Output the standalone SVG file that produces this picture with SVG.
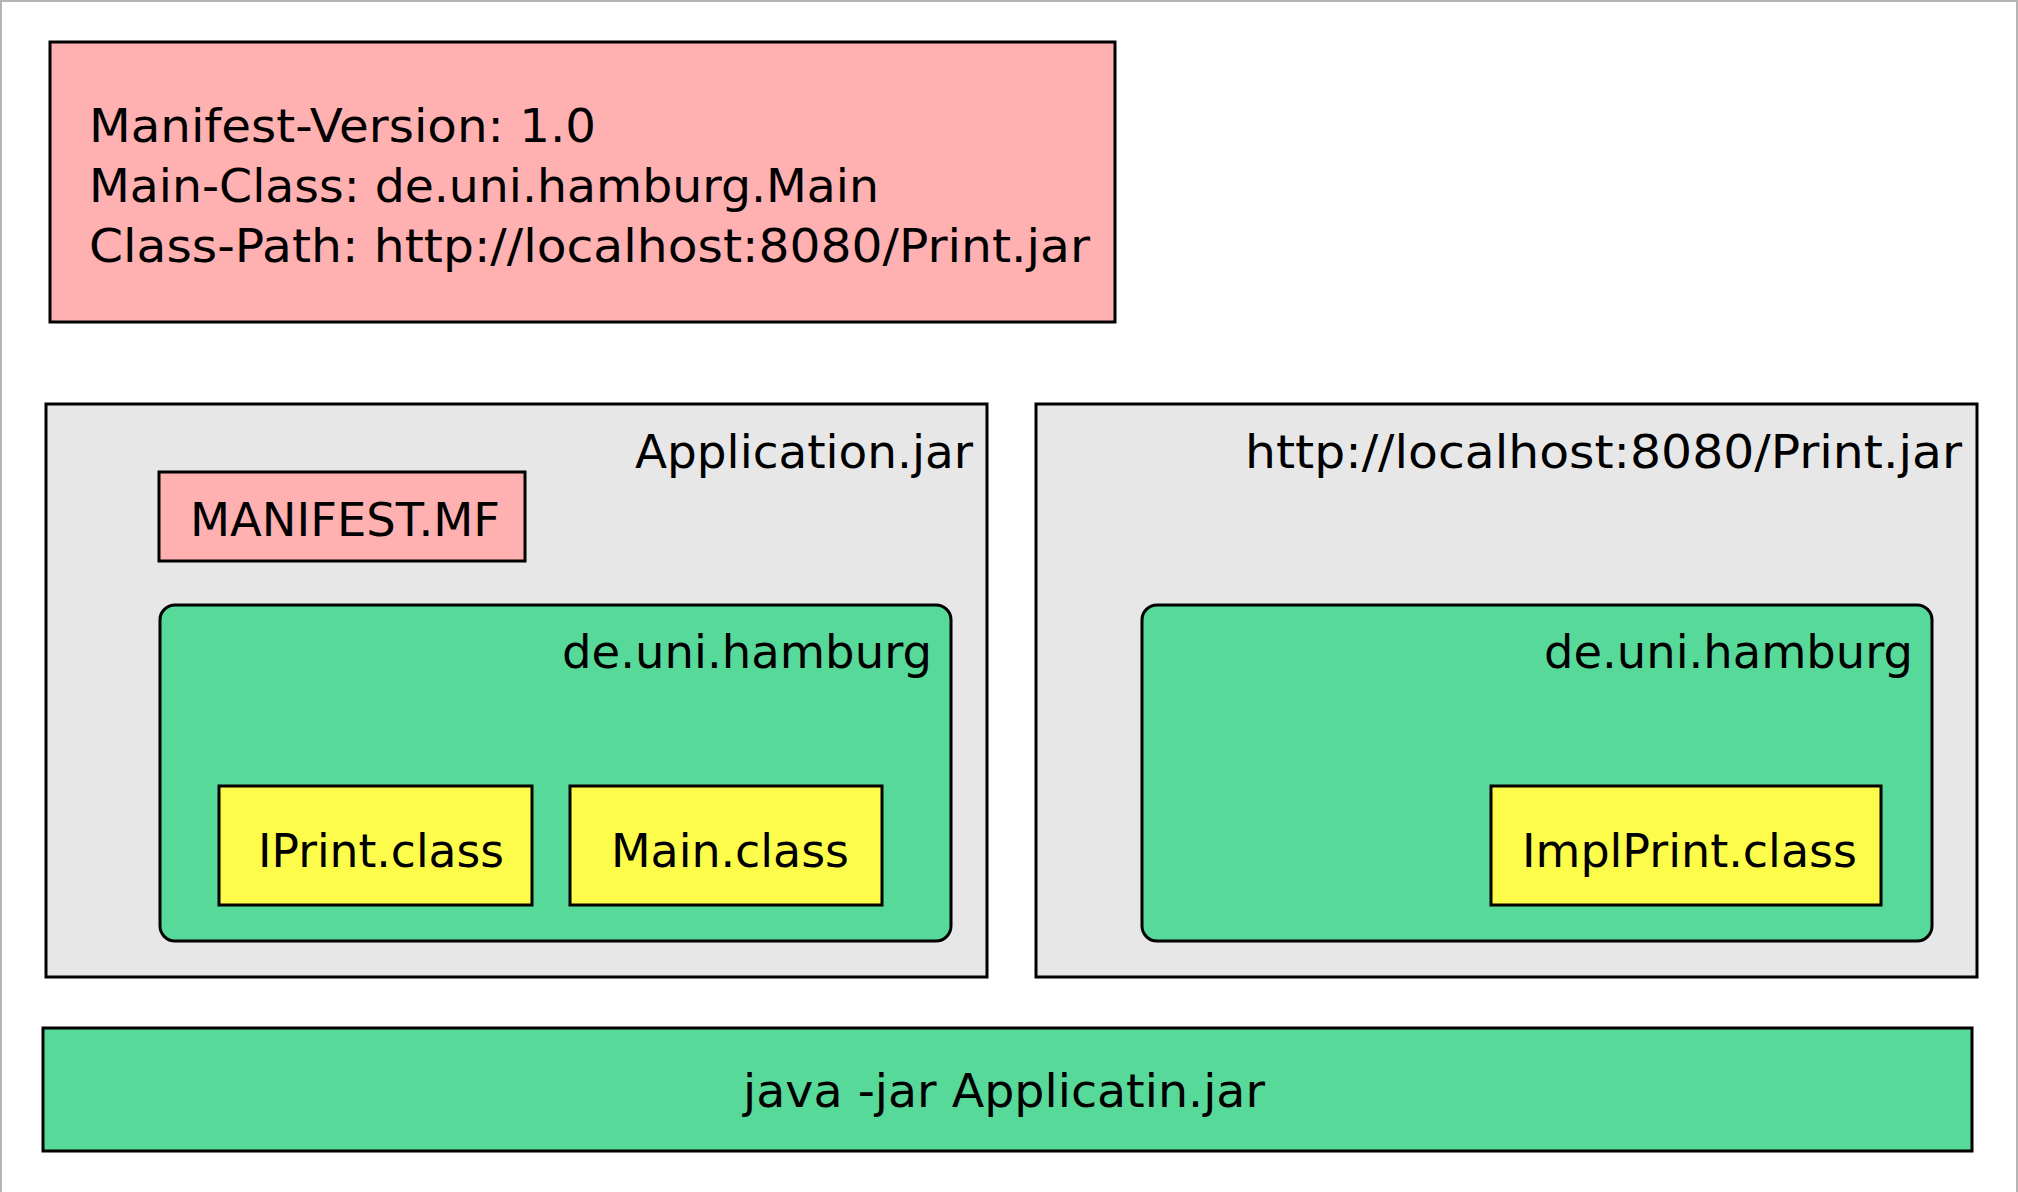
<svg xmlns="http://www.w3.org/2000/svg" width="2018" height="1192" viewBox="0 0 2018 1192">
<style>
.box{stroke:#000;stroke-width:3}
.pink{fill:#ffb0b0}
.gray{fill:#e7e7e7}
.green{fill:#57d99a}
.yellow{fill:#fefc4a}
text{font-family:"DejaVu Sans","Liberation Sans",sans-serif;font-size:47px;fill:#000}
</style>
<rect x="1" y="1" width="2016" height="1200" fill="#fff" stroke="#b4b4b4" stroke-width="2"/>
<g id="manifest-content">
<rect class="box pink" x="50" y="42" width="1065" height="280"/>
<text x="89" y="142" textLength="507" lengthAdjust="spacingAndGlyphs">Manifest-Version: 1.0</text>
<text x="89" y="202" textLength="790" lengthAdjust="spacingAndGlyphs">Main-Class: de.uni.hamburg.Main</text>
<text x="89" y="262" textLength="1001" lengthAdjust="spacingAndGlyphs">Class-Path: http://localhost:8080/Print.jar</text>
</g>
<g id="application-jar">
<rect class="box gray" x="46" y="404" width="941" height="573"/>
<text x="635" y="468" textLength="338" lengthAdjust="spacingAndGlyphs">Application.jar</text>
</g>
<g id="manifest-mf">
<rect class="box pink" x="159" y="472" width="366" height="89"/>
<text x="190" y="536" textLength="310" lengthAdjust="spacingAndGlyphs">MANIFEST.MF</text>
</g>
<g id="package-app">
<rect class="box green" x="160" y="605" width="791" height="336" rx="15"/>
<text x="562" y="668" textLength="370" lengthAdjust="spacingAndGlyphs">de.uni.hamburg</text>
</g>
<g id="iprint-class">
<rect class="box yellow" x="219" y="786" width="313" height="119"/>
<text x="258" y="867" textLength="246" lengthAdjust="spacingAndGlyphs">IPrint.class</text>
</g>
<g id="main-class">
<rect class="box yellow" x="570" y="786" width="312" height="119"/>
<text x="611" y="867" textLength="238" lengthAdjust="spacingAndGlyphs">Main.class</text>
</g>
<g id="print-jar">
<rect class="box gray" x="1036" y="404" width="941" height="573"/>
<text x="1245" y="468" textLength="717" lengthAdjust="spacingAndGlyphs">http://localhost:8080/Print.jar</text>
</g>
<g id="package-print">
<rect class="box green" x="1142" y="605" width="790" height="336" rx="15"/>
<text x="1544" y="668" textLength="369" lengthAdjust="spacingAndGlyphs">de.uni.hamburg</text>
</g>
<g id="implprint-class">
<rect class="box yellow" x="1491" y="786" width="390" height="119"/>
<text x="1522" y="867" textLength="335" lengthAdjust="spacingAndGlyphs">ImplPrint.class</text>
</g>
<g id="java-command">
<rect class="box green" x="43" y="1028" width="1929" height="123"/>
<text x="743" y="1107" textLength="522" lengthAdjust="spacingAndGlyphs">java -jar Applicatin.jar</text>
</g>
<g id="connectors"></g>
</svg>
